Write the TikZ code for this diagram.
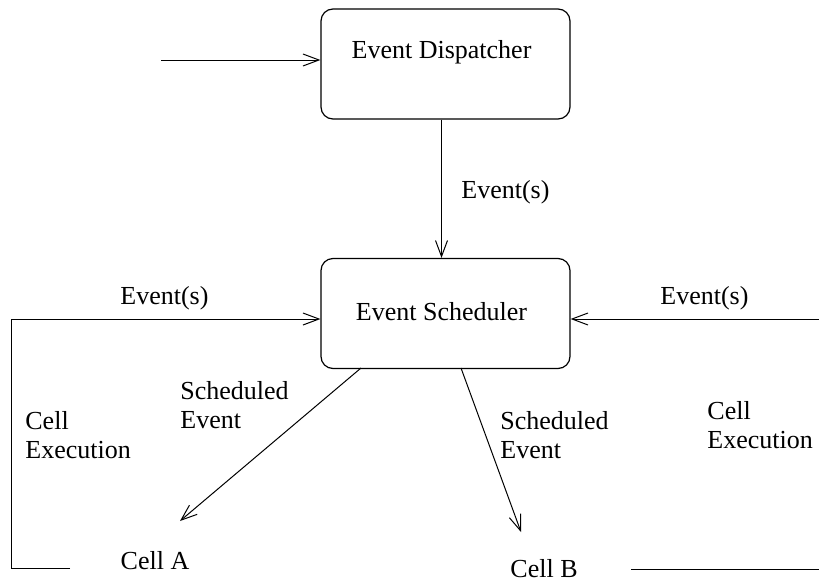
\documentclass[tikz,border=0pt]{standalone}
\usepackage{fontspec}
\setmainfont{Liberation Serif}
\usetikzlibrary{arrows.meta}
\begin{document}
\begin{tikzpicture}[x=0.5pt,y=-0.5pt,
  every node/.style={font=\fontsize{13}{14.5}\selectfont},
  box/.style={draw, rounded corners=6pt, minimum width=124.5pt, minimum height=55pt, inner sep=0pt, line width=0.6pt},
  conn/.style={line width=0.5pt},
  arr/.style={conn, -{Straight Barb[length=8pt,width=6pt,line width=0.5pt]}},
  lbl/.style={align=left, anchor=west, inner sep=0pt},
  cell/.style={inner sep=0pt}]
\useasboundingbox (0,0) rectangle (819,584);
% boxes
\node[box, label={[xshift=-2pt,yshift=6pt]center:Event Dispatcher}] (disp) at (445.5,64) {};
\node[box, label={[xshift=-2pt,yshift=1pt]center:Event Scheduler}] (sched) at (445.5,313.5) {};
% cells
\node[cell] (cellA) at (155,561) {Cell A};
\node[cell] (cellB) at (544,569) {Cell B};
% coordinates
\coordinate (in) at (161,60);
\coordinate (la) at (70,568);
\coordinate (lc) at (11,568);
\coordinate (ltop) at (11,319);
\coordinate (rb1) at (631,569);
\coordinate (rb2) at (819,569);
\coordinate (rin) at (819,319);
\coordinate (sA) at (361,368);
\coordinate (eA) at (180,521);
\coordinate (sB) at (461,368);
\coordinate (eB) at (521,532);
% connectors
\draw[arr] (in) -- (in -| disp.west);
\draw[arr] ([xshift=-2pt]disp.south) -- ([xshift=-2pt]sched.north);
\draw[conn] (la) -- (lc) -- (ltop);
\draw[arr] (ltop) -- (ltop -| sched.west);
\draw[arr] (rin) -- (rin -| sched.east);
\draw[conn] (rb1) -- (rb2);
\draw[arr] (sA) -- (eA);
\draw[arr] (sB) -- (eB);
% labels
\node[lbl] (l1) at (461,192) {Event(s)};
\node[lbl] (l2) at (120,298) {Event(s)};
\node[lbl] (l3) at (660,298) {Event(s)};
\node[lbl] (l4) at (180,405) {Scheduled\\Event};
\node[lbl] (l5) at (500,435) {Scheduled\\Event};
\node[lbl] (l6) at (25,435) {Cell\\Execution};
\node[lbl] (l7) at (707,425) {Cell\\Execution};
\end{tikzpicture}
\end{document}
